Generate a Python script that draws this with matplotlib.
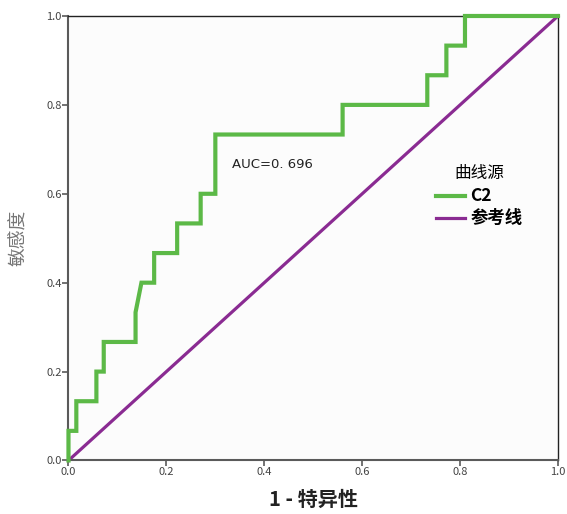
import numpy as np
import matplotlib.pyplot as plt

plt.rcParams['font.family'] = ['Noto Sans CJK SC', 'DejaVu Sans']

# ROC points (1 - specificity, sensitivity)
fpr = [0.0, 0.0, 0.016, 0.016, 0.057, 0.057, 0.072, 0.072, 0.137, 0.137,
       0.149, 0.175, 0.175, 0.222, 0.222, 0.27, 0.27, 0.30, 0.30, 0.56,
       0.56, 0.733, 0.733, 0.772, 0.772, 0.81, 0.81, 1.0]
tpr = [0, 1, 1, 2, 2, 3, 3, 4, 4, 5,
       6, 6, 7, 7, 8, 8, 9, 9, 11, 11,
       12, 12, 13, 13, 14, 14, 15, 15]
tpr = [v / 15 for v in tpr]
ref_x = [0.0, 1.0]
ref_y = [0.0, 1.0]
ticks = [0.0, 0.2, 0.4, 0.6, 0.8, 1.0]
auc_label = 'AUC=0. 696'

green = '#5cb947'
purple = '#8a2b92'
grey = '#5a5a5a'

fig = plt.figure(figsize=(5.67, 5.14), dpi=100)
fig.patch.set_facecolor('white')
ax = fig.add_axes([0.1208, 0.1041, 0.9841 - 0.1208, 0.9689 - 0.1041])
ax.set_facecolor('#fcfcfc')

ax.plot(fpr, tpr, color=green, lw=3.0, label='C2', solid_joinstyle='miter',
        clip_on=False, zorder=3)
ax.plot(ref_x, ref_y, color=purple, lw=2.3, label='参考线', clip_on=False, zorder=2)

ax.set_xlim(0, 1)
ax.set_ylim(0, 1)
ax.set_xticks(ticks)
ax.set_yticks(ticks)
ax.set_xticklabels(['%.1f' % t for t in ticks])
ax.set_yticklabels(['%.1f' % t for t in ticks])
ax.tick_params(direction='out', length=4, width=1.2, color=grey,
               labelsize=8, labelcolor='#444444', pad=1)
for side in ['left', 'bottom']:
    ax.spines[side].set_color(grey)
    ax.spines[side].set_linewidth(1.5)
for side in ['top', 'right']:
    ax.spines[side].set_color('#222222')
    ax.spines[side].set_linewidth(1.0)

ax.set_xlabel('1 - 特异性', fontsize=14.5, fontweight='bold', color='#222222', labelpad=8)
ax.set_ylabel('敏感度', fontsize=13.5, color='#777777', labelpad=12)

ax.text(0.335, 0.665, auc_label, fontsize=9.5, color='#222222',
        family=['DejaVu Sans'], va='center', ha='left')

leg = ax.legend(title='曲线源', loc='center left', bbox_to_anchor=(0.74, 0.595),
                frameon=False, handlelength=2.1, handletextpad=0.35,
                labelspacing=0.3, borderaxespad=0)
leg.get_title().set_fontsize(12)
for t in leg.get_texts():
    t.set_fontsize(12.5)
    t.set_fontweight('bold')

fig.savefig('out.png', dpi=100)
